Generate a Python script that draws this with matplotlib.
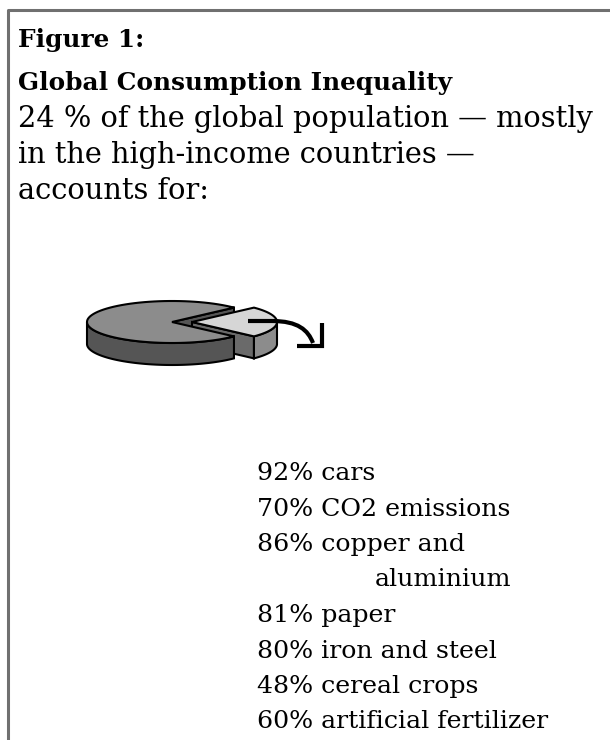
import numpy as np
import matplotlib.pyplot as plt
from matplotlib.patches import Polygon, PathPatch
from matplotlib.path import Path

# data
shares = [76, 24]          # rest of world, high-income 24 %
title_lines = ["Figure 1:", "Global Consumption Inequality"]
intro_lines = ["24 % of the global population \u2014 mostly",
               "in the high-income countries \u2014",
               "accounts for:"]
items = ["92% cars", "70% CO2 emissions", "86% copper and",
         "aluminium", "81% paper", "80% iron and steel",
         "48% cereal crops", "60% artificial fertilizer"]
item_indent = [0, 0, 0, 1, 0, 0, 0, 0]

fig = plt.figure(figsize=(6.1, 7.4), dpi=100)
ax = fig.add_axes([0, 0, 1, 1])
ax.set_xlim(0, 610)
ax.set_ylim(740, 0)
ax.axis('off')

# frame
ax.plot([8, 8, 610], [740, 10, 10], color='#707070', lw=2.2, solid_capstyle='butt')

body = 'DejaVu Serif'
ax.text(18, 47, title_lines[0], family=body, fontsize=17.8, fontweight='bold', va='baseline')
ax.text(18, 90, title_lines[1], family=body, fontsize=17.8, fontweight='bold', va='baseline')
y = 127
for s in intro_lines:
    ax.text(18, y, s, family=body, fontsize=20.8, va='baseline')
    y += 36

y = 480
for s, ind in zip(items, item_indent):
    ax.text(257 + 118 * ind, y, s, family=body, fontsize=18.2, va='baseline')
    y += 35.5

# 3d pie
cx, cy, a, b, h = 172, 322, 85, 21, 22
frac = np.array(shares) / sum(shares)
half = frac[1] * np.pi          # half angle of the pulled slice
shift = 20


def pt(t, dx=0, dy=0):
    return cx + dx + a * np.cos(t), cy + dy - b * np.sin(t)


def arc(t0, t1, dx=0, dy=0, n=80):
    t = np.linspace(t0, t1, n)
    return np.column_stack([cx + dx + a * np.cos(t), cy + dy - b * np.sin(t)])


def side(t0, t1, dx=0):
    # visible front part of the outer wall between t0 and t1
    lo, hi = max(t0, np.pi), min(t1, 2 * np.pi)
    if lo >= hi:
        return None
    return np.vstack([arc(lo, hi, dx), arc(hi, lo, dx, h)])


ec = 'black'
lw = 1.5
main_top, main_side = '#8c8c8c', '#555555'
sl_top, sl_side, sl_face = '#d6d6d6', '#8c8c8c', '#6a6a6a'

# radial face of main pie at +half (seen through the gap)
p1 = pt(half)
ax.add_patch(Polygon([(cx, cy), p1, (p1[0], p1[1] + h), (cx, cy + h)],
                     closed=True, fc=main_side, ec=ec, lw=lw))

# pulled slice
q = pt(-half, shift)
ax.add_patch(Polygon([(cx + shift, cy), q, (q[0], q[1] + h), (cx + shift, cy + h)],
                     closed=True, fc=sl_face, ec=ec, lw=lw))
ax.add_patch(Polygon(side(2 * np.pi - half, 2 * np.pi, shift), closed=True,
                     fc=sl_side, ec=ec, lw=lw))
top = np.vstack([[cx + shift, cy], arc(-half, half, shift)])
ax.add_patch(Polygon(top, closed=True, fc=sl_top, ec=ec, lw=lw, joinstyle='miter'))

# main pie
ax.add_patch(Polygon(side(half, 2 * np.pi - half), closed=True,
                     fc=main_side, ec=ec, lw=lw))
top = np.vstack([[cx, cy], arc(half, 2 * np.pi - half)])
ax.add_patch(Polygon(top, closed=True, fc=main_top, ec=ec, lw=lw, joinstyle='miter'))

# curved arrow
verts = [(248, 321), (272, 321), (272, 321), (298, 321), (308, 330), (313, 343)]
codes = [Path.MOVETO, Path.LINETO, Path.MOVETO, Path.CURVE4, Path.CURVE4, Path.CURVE4]
ax.add_patch(PathPatch(Path(verts, codes), fc='none', ec='black', lw=3.0))
ax.plot([297, 322, 322], [346, 346, 323], color='black', lw=3.0,
        solid_joinstyle='miter', solid_capstyle='butt')

fig.savefig('out.png', dpi=100)
